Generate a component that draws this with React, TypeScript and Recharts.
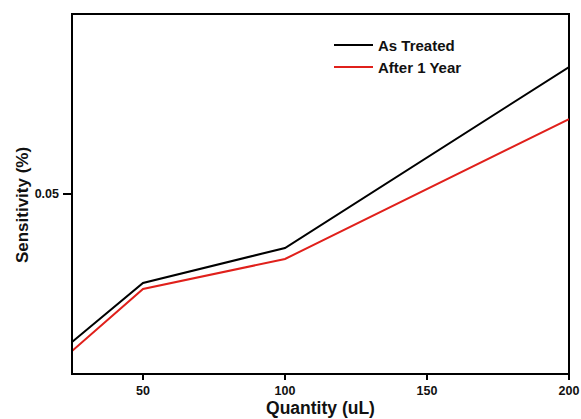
import { LineChart, Line, XAxis, YAxis, ReferenceArea } from "recharts"

const quantity = [25, 50, 100, 200]
const asTreated = [0.03356, 0.04011, 0.044, 0.06411]
const afterOneYear = [0.03256, 0.03944, 0.04278, 0.05833]
const xTicks = [50, 100, 150, 200]
const yTicks = [0.05]

const data = quantity.map((q, i) => ({ q, asTreated: asTreated[i], afterOneYear: afterOneYear[i] }))

const series = [
  { key: "asTreated", name: "As Treated", color: "#000000" },
  { key: "afterOneYear", name: "After 1 Year", color: "#e0201b" },
]

const font = "'Liberation Sans', Arial, sans-serif"

// legend sits over the plot, top-right, so keep it out of recharts' layout
function LegendBox() {
  return (
    <div style={{ position: "absolute", left: 334, top: 34, fontFamily: font, fontWeight: "bold", fontSize: 15 }}>
      {series.map((s) => (
        <div key={s.key} style={{ display: "flex", alignItems: "center", height: 22 }}>
          <span style={{ display: "inline-block", width: 39, height: 2, background: s.color, marginRight: 5 }} />
          <span style={{ color: "#111" }}>{s.name}</span>
        </div>
      ))}
    </div>
  )
}

export default function App() {
  return (
    <div style={{ position: "absolute", left: 0, top: 0, width: 581, height: 419, background: "#fff" }}>
      <LineChart width={581} height={419} data={data} margin={{ top: 14, right: 12, bottom: 15, left: 12 }}>
        <XAxis
          dataKey="q"
          type="number"
          domain={[25, 200]}
          ticks={xTicks}
          allowDataOverflow
          stroke="#000"
          strokeWidth={2}
          tickSize={6}
          tickMargin={6}
          height={30}
          tick={{ fontSize: 12.5, fontWeight: "bold", fill: "#111", fontFamily: font }}
          label={({ viewBox }: any) => (
            <text
              x={viewBox.x + viewBox.width / 2}
              y={viewBox.y + 40}
              textAnchor="middle"
              style={{ fontFamily: font, fontWeight: "bold", fontSize: 17.5, fill: "#111" }}
            >
              Quantity (uL)
            </text>
          )}
        />
        <YAxis
          type="number"
          domain={[0.03, 0.07]}
          ticks={yTicks}
          allowDataOverflow
          width={60}
          stroke="#000"
          strokeWidth={2}
          tickSize={9}
          tickMargin={4}
          tick={{ fontSize: 12.5, fontWeight: "bold", fill: "#111", fontFamily: font }}
          label={({ viewBox }: any) => {
            const cx = 22
            const cy = viewBox.y + viewBox.height / 2 + 11
            return (
              <text
                x={cx}
                y={cy}
                transform={`rotate(-90 ${cx} ${cy})`}
                textAnchor="middle"
                dominantBaseline="central"
                style={{ fontFamily: font, fontWeight: "bold", fontSize: 17, fill: "#111" }}
              >
                Sensitivity (%)
              </text>
            )
          }}
        />
        <ReferenceArea x1={25} x2={200} y1={0.03} y2={0.07} fill="none" stroke="#000" strokeWidth={2} ifOverflow="visible" />
        {series.map((s) => (
          <Line
            key={s.key}
            dataKey={s.key}
            name={s.name}
            stroke={s.color}
            strokeWidth={2}
            dot={false}
            type="linear"
            isAnimationActive={false}
          />
        ))}
      </LineChart>
      <LegendBox />
    </div>
  )
}
